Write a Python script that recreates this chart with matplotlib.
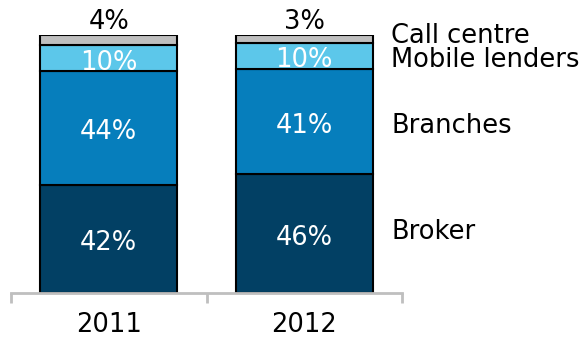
import numpy as np
import matplotlib
matplotlib.use("Agg")
import matplotlib.pyplot as plt

years = ["2011", "2012"]
channels = ["Broker", "Branches", "Mobile lenders", "Call centre"]
broker = [42, 46]
branches = [44, 41]
mobile = [10, 10]
call_centre = [4, 3]

colors = ["#024064", "#067EBC", "#5CC7EA", "#BFBFBF"]
label_colors = ["white", "white", "white", None]

plt.rcParams["font.family"] = ["DejaVu Sans"]

fig = plt.figure(figsize=(5.84, 3.38), dpi=100)
ax = fig.add_axes([11 / 584, 45 / 338, 391 / 584, 258 / 338])

x = np.arange(len(years))
series = [broker, branches, mobile, call_centre]
bottom = np.zeros(len(years))
fs = 18.5

for vals, col, lcol in zip(series, colors, label_colors):
    vals = np.array(vals, dtype=float)
    ax.bar(x, vals, 0.7, bottom=bottom, color=col, edgecolor="black",
           linewidth=1.5, zorder=2)
    for xi, b, v in zip(x, bottom, vals):
        if lcol is None:
            # small top segment: value sits above the bar
            ax.text(xi, b + v + 2.3, f"{v:.0f}%", ha="center", va="baseline",
                    fontsize=fs, color="black", clip_on=False)
        else:
            ax.text(xi, b + v / 2 - 4.5, f"{v:.0f}%", ha="center",
                    va="baseline", fontsize=fs, color=lcol)
    bottom += vals

# series names to the right of the 2012 bar
last = [s[-1] for s in series]
cum = np.cumsum([0] + last)
mids = [(cum[i] + cum[i + 1]) / 2 for i in range(len(last))]
shift = [-2.1, -4.5, -4.4, -1.6]
for name, m, s in zip(channels, mids, shift):
    ax.text(1.445, m + s, name, ha="left", va="baseline", fontsize=fs,
            color="black", clip_on=False)

ax.set_xlim(-0.5, 1.5)
ax.set_ylim(0, 100)
for side in ["left", "right", "top"]:
    ax.spines[side].set_visible(False)
ax.spines["bottom"].set_color("#BFBFBF")
ax.spines["bottom"].set_linewidth(2)
ax.set_yticks([])
ax.set_xticks(x)
ax.set_xticklabels(years, fontsize=fs)
ax.tick_params(axis="x", which="major", length=0, pad=14)
ax.set_xticks([-0.5, 0.5, 1.5], minor=True)
ax.tick_params(axis="x", which="minor", length=7.5, width=2, color="#BFBFBF")

fig.savefig("out.png", dpi=100)
